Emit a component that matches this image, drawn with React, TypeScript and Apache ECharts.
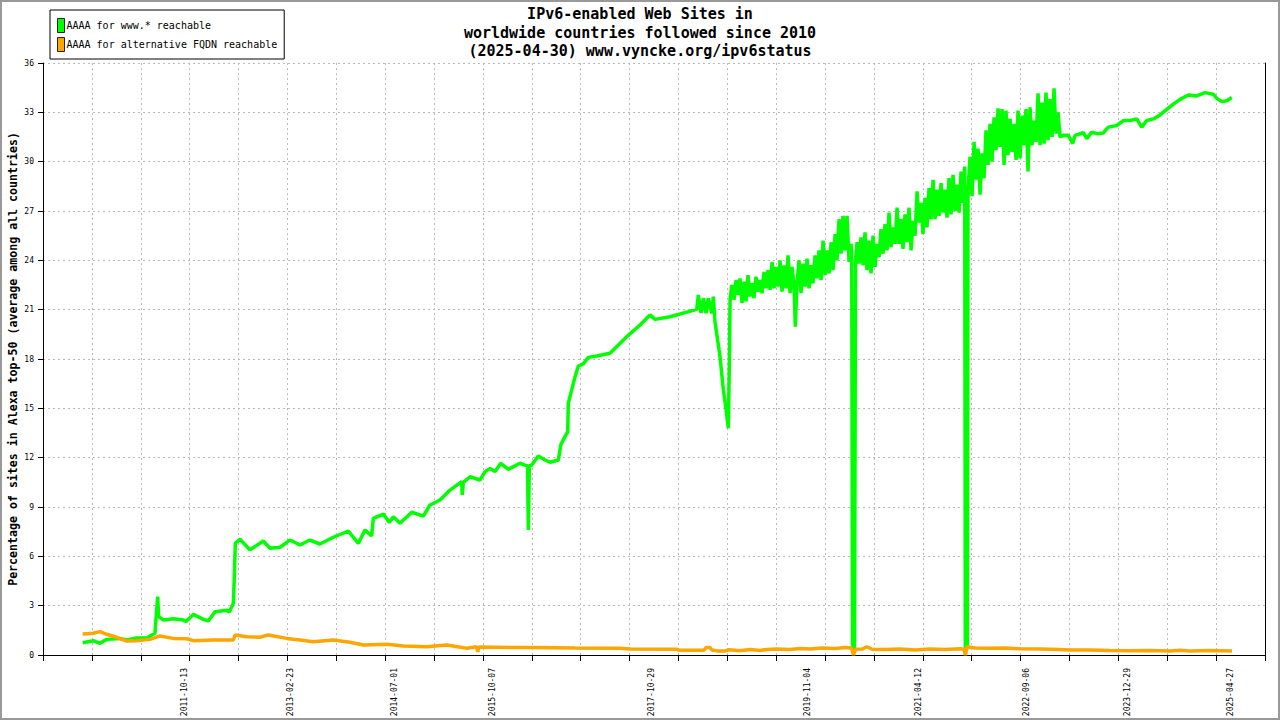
import React, { useEffect, useRef } from "react";
import * as echarts from "echarts";

// x axis: decimal years, shown as offsets from X_MIN so ticks start at 0
const X_MIN = 2009.942;
const X_INTERVAL = 0.6331;
const X_TICK_COUNT = 25;

const Y_MAX = 36;
const Y_INTERVAL = 3;

const X_LABELS = [
  "2011-10-13", "2013-02-23", "2014-07-01", "2015-10-07", "2017-10-29",
  "2019-11-04", "2021-04-12", "2022-09-06", "2023-12-29", "2025-04-27",
];

const SERIES_NAMES = ["AAAA for www.* reachable", "AAAA for alternative FQDN reachable"];

// [decimal year, percentage]
const GREEN_POINTS: [number, number][] = [
  [2010.456, 0.75], [2010.593, 0.87], [2010.680, 0.71], [2010.767, 0.95], [2010.939, 1.01],
  [2011.026, 0.91], [2011.155, 1.03], [2011.285, 1.03], [2011.392, 1.32], [2011.427, 3.55],
  [2011.440, 2.33], [2011.500, 2.13], [2011.629, 2.21], [2011.759, 2.13], [2011.794, 2.03],
  [2011.889, 2.47], [2012.018, 2.17], [2012.083, 2.07], [2012.170, 2.63], [2012.321, 2.72],
  [2012.355, 2.61], [2012.407, 3.14], [2012.420, 4.76], [2012.433, 6.79], [2012.493, 7.04],
  [2012.623, 6.39], [2012.795, 6.93], [2012.882, 6.49], [2013.012, 6.55], [2013.141, 6.99],
  [2013.271, 6.69], [2013.400, 6.99], [2013.530, 6.75], [2013.702, 7.16], [2013.896, 7.54],
  [2014.026, 6.79], [2014.113, 7.60], [2014.199, 7.24], [2014.220, 8.31], [2014.350, 8.57],
  [2014.427, 8.05], [2014.479, 8.41], [2014.566, 8.01], [2014.718, 8.68], [2014.868, 8.45],
  [2014.955, 9.12], [2015.041, 9.32], [2015.084, 9.43], [2015.214, 10.03], [2015.365, 10.54],
  [2015.373, 9.73], [2015.386, 10.50], [2015.473, 10.84], [2015.602, 10.64], [2015.667, 11.15],
  [2015.732, 11.35], [2015.797, 11.15], [2015.870, 11.66], [2015.969, 11.29], [2016.120, 11.66],
  [2016.185, 11.55], [2016.218, 11.50], [2016.228, 7.60], [2016.241, 11.50], [2016.272, 11.55],
  [2016.357, 12.10], [2016.444, 11.86], [2016.509, 11.72], [2016.617, 11.86], [2016.648, 12.77],
  [2016.703, 13.28], [2016.738, 13.58], [2016.746, 15.31], [2016.790, 16.12], [2016.833, 16.92],
  [2016.876, 17.57], [2016.940, 17.70], [2017.005, 18.10], [2017.114, 18.18], [2017.286, 18.35],
  [2017.503, 19.36], [2017.675, 20.07], [2017.804, 20.68], [2017.869, 20.41], [2018.063, 20.57],
  [2018.409, 21.02], [2018.430, 21.89], [2018.465, 20.80], [2018.495, 21.70], [2018.530, 20.78],
  [2018.560, 21.69], [2018.604, 20.78], [2018.624, 21.79], [2018.646, 20.27], [2018.711, 18.14],
  [2018.754, 16.12], [2018.785, 15.10], [2018.819, 13.79], [2018.832, 17.94], [2018.841, 21.59],
  [2018.863, 22.50],
  [2018.892, 21.6], [2018.918, 22.8], [2018.944, 21.9], [2018.970, 22.9], [2018.996, 21.4],
  [2019.022, 22.7], [2019.048, 21.5], [2019.073, 23.1], [2019.099, 21.8], [2019.125, 22.6],
  [2019.151, 21.7], [2019.177, 23.0], [2019.203, 22.1], [2019.229, 22.8], [2019.255, 22.0],
  [2019.281, 23.3], [2019.307, 22.3], [2019.333, 23.4], [2019.359, 22.2], [2019.385, 23.9],
  [2019.410, 22.3], [2019.436, 23.6], [2019.462, 22.4], [2019.488, 24.0], [2019.514, 22.1],
  [2019.540, 23.7], [2019.566, 22.3], [2019.592, 24.3], [2019.618, 22.0], [2019.644, 23.6],
  [2019.669, 22.5], [2019.686, 19.96], [2019.708, 22.6], [2019.734, 24.0], [2019.760, 22.0],
  [2019.786, 23.8], [2019.812, 22.4], [2019.838, 24.1], [2019.864, 22.3], [2019.890, 23.7],
  [2019.915, 22.6], [2019.941, 24.3], [2019.967, 22.9], [2019.993, 24.6], [2020.019, 22.8],
  [2020.045, 25.2], [2020.071, 23.1], [2020.097, 24.6], [2020.123, 23.2], [2020.149, 25.1],
  [2020.175, 23.4], [2020.201, 25.6], [2020.226, 24.0], [2020.252, 26.5], [2020.278, 24.4],
  [2020.304, 26.7], [2020.330, 24.6], [2020.356, 26.7], [2020.382, 23.9], [2020.408, 25.0],
  [2020.417, 24.2], [2020.427, 0.45], [2020.453, 0.45],
  [2020.466, 24.0], [2020.486, 25.1], [2020.512, 23.8], [2020.537, 25.4], [2020.563, 23.7],
  [2020.589, 25.7], [2020.615, 23.4], [2020.641, 25.2], [2020.667, 23.2], [2020.693, 25.5],
  [2020.719, 23.6], [2020.745, 25.0], [2020.771, 24.2], [2020.796, 25.9], [2020.822, 24.4],
  [2020.848, 26.2], [2020.874, 24.6], [2020.900, 26.9], [2020.926, 24.8], [2020.952, 26.0],
  [2020.978, 25.0], [2021.004, 27.2], [2021.030, 25.0], [2021.055, 26.5], [2021.081, 24.7],
  [2021.107, 26.8], [2021.133, 25.1], [2021.159, 27.2], [2021.185, 24.6], [2021.211, 26.4],
  [2021.237, 25.5], [2021.263, 28.2], [2021.289, 26.3], [2021.315, 27.5], [2021.340, 25.6],
  [2021.366, 27.8], [2021.392, 26.0], [2021.418, 28.4], [2021.444, 26.5], [2021.470, 28.9],
  [2021.496, 26.5], [2021.522, 28.3], [2021.548, 26.7], [2021.574, 28.7], [2021.600, 26.9],
  [2021.625, 28.3], [2021.651, 26.6], [2021.677, 29.0], [2021.703, 26.8], [2021.729, 29.2],
  [2021.755, 27.0], [2021.781, 28.6], [2021.807, 26.9], [2021.833, 29.4], [2021.859, 27.5],
  [2021.880, 29.7], [2021.888, 0.45], [2021.914, 0.45],
  [2021.923, 28.2], [2021.949, 30.3], [2021.975, 27.9], [2022.001, 31.2], [2022.027, 28.9],
  [2022.053, 30.8], [2022.079, 28.0], [2022.104, 30.5], [2022.130, 29.0], [2022.156, 31.9],
  [2022.182, 29.8], [2022.208, 32.3], [2022.234, 30.0], [2022.260, 32.7], [2022.286, 30.7],
  [2022.312, 33.25], [2022.338, 30.9], [2022.364, 33.2], [2022.390, 29.8], [2022.415, 33.1],
  [2022.441, 30.4], [2022.467, 32.6], [2022.493, 30.6], [2022.519, 32.3], [2022.545, 30.1],
  [2022.571, 33.1], [2022.597, 30.2], [2022.623, 32.8], [2022.649, 31.0], [2022.674, 33.2],
  [2022.700, 29.4], [2022.726, 33.3], [2022.752, 31.0], [2022.778, 32.5], [2022.804, 31.2],
  [2022.830, 34.16], [2022.856, 31.0], [2022.882, 33.6], [2022.908, 31.1], [2022.933, 34.2],
  [2022.959, 31.3], [2022.985, 33.8], [2023.011, 31.5], [2023.037, 34.46], [2023.063, 31.7],
  [2023.089, 33.0], [2023.115, 31.5],
  [2023.158, 31.6], [2023.222, 31.6], [2023.279, 31.1], [2023.309, 31.6], [2023.417, 31.76],
  [2023.461, 31.4], [2023.525, 31.8], [2023.590, 31.7], [2023.676, 31.75], [2023.740, 32.1],
  [2023.849, 32.2], [2023.935, 32.5], [2024.022, 32.5], [2024.108, 32.6], [2024.173, 32.1],
  [2024.238, 32.5], [2024.323, 32.6], [2024.410, 32.84], [2024.497, 33.18], [2024.582, 33.5],
  [2024.669, 33.79], [2024.777, 34.05], [2024.886, 34.0], [2024.993, 34.2], [2025.101, 34.1],
  [2025.145, 33.85], [2025.209, 33.65], [2025.274, 33.7], [2025.339, 33.9],
];

const ORANGE_POINTS: [number, number][] = [
  [2010.456, 1.28], [2010.593, 1.32], [2010.680, 1.42], [2010.767, 1.26], [2010.874, 1.11],
  [2011.026, 0.85], [2011.155, 0.87], [2011.328, 0.95], [2011.457, 1.16], [2011.629, 1.01],
  [2011.803, 0.99], [2011.889, 0.87], [2012.148, 0.91], [2012.407, 0.91], [2012.429, 1.22],
  [2012.580, 1.11], [2012.752, 1.08], [2012.860, 1.22], [2013.098, 1.01], [2013.271, 0.91],
  [2013.443, 0.81], [2013.702, 0.91], [2013.918, 0.77], [2014.091, 0.61], [2014.394, 0.65],
  [2014.609, 0.55], [2014.912, 0.50], [2015.171, 0.61], [2015.430, 0.41], [2015.559, 0.50],
  [2015.572, 0.20], [2015.589, 0.48], [2016.250, 0.45], [2016.833, 0.42], [2017.416, 0.41],
  [2017.545, 0.36], [2018.154, 0.35], [2018.180, 0.29], [2018.504, 0.29], [2018.530, 0.46],
  [2018.581, 0.46], [2018.605, 0.30], [2018.672, 0.25], [2018.775, 0.25], [2018.827, 0.32],
  [2018.970, 0.26], [2019.100, 0.33], [2019.229, 0.28], [2019.320, 0.34], [2019.436, 0.37],
  [2019.618, 0.33], [2019.747, 0.40], [2019.877, 0.36], [2020.032, 0.43], [2020.201, 0.40],
  [2020.330, 0.45], [2020.414, 0.42], [2020.440, 0.0], [2020.466, 0.35], [2020.550, 0.36],
  [2020.615, 0.50], [2020.680, 0.35], [2020.848, 0.33], [2021.042, 0.36], [2021.236, 0.31],
  [2021.431, 0.36], [2021.625, 0.33], [2021.820, 0.38], [2021.871, 0.35], [2021.888, 0.0],
  [2021.914, 0.50], [2022.014, 0.43], [2022.208, 0.41], [2022.402, 0.42], [2022.597, 0.38],
  [2022.856, 0.37], [2023.115, 0.33], [2023.244, 0.30], [2023.503, 0.31], [2023.762, 0.27],
  [2024.022, 0.26], [2024.281, 0.27], [2024.540, 0.24], [2024.669, 0.29], [2024.799, 0.24],
  [2025.058, 0.27], [2025.343, 0.25],
];

const MONO = "'DejaVu Sans Mono', 'Liberation Mono', monospace";

function dateToYear(s: string): number {
  const [y, m, d] = s.split("-").map(Number);
  const start = Date.UTC(y, 0, 1);
  const days = (Date.UTC(y + 1, 0, 1) - start) / 86400000;
  return y + (Date.UTC(y, m - 1, d) - start) / 86400000 / days;
}

export default function App() {
  const ref = useRef<HTMLDivElement>(null);

  useEffect(() => {
    if (!ref.current) return;
    const chart = echarts.init(ref.current, null, { renderer: "svg" });
    const labelOffsets = X_LABELS.map((l) => dateToYear(l) - X_MIN);
    const xMax = X_INTERVAL * X_TICK_COUNT;

    const option: any = {
      animation: false,
      backgroundColor: "#ffffff",
      title: {
        text: "IPv6-enabled Web Sites in\nworldwide countries followed since 2010\n(2025-04-30) www.vyncke.org/ipv6status",
        left: "center",
        top: 5,
        padding: 0,
        textStyle: {
          fontFamily: MONO,
          fontWeight: "bold",
          fontSize: 15,
          lineHeight: 18.5,
          color: "#000",
        },
      },
      legend: {
        left: 50,
        top: 10,
        orient: "vertical",
        padding: [8, 7, 7, 7],
        itemGap: 4,
        itemWidth: 7,
        itemHeight: 14,
        backgroundColor: "#ffffff",
        borderColor: "#000000",
        borderWidth: 1,
        borderRadius: 0,
        icon: "rect",
        itemStyle: { borderColor: "#222", borderWidth: 1 },
        textStyle: { fontFamily: MONO, fontSize: 10, color: "#000", padding: [0, 0, 0, -3] },
        data: SERIES_NAMES,
      },
      grid: { left: 43, right: 15, top: 63, bottom: 65, outerBoundsMode: "none" },
      xAxis: {
        type: "value",
        min: 0,
        max: xMax,
        interval: X_INTERVAL,
        axisLine: { show: true, lineStyle: { color: "#000", width: 1 } },
        axisTick: { show: true, inside: false, length: 6, lineStyle: { color: "#000", width: 1 } },
        axisLabel: {
          customValues: labelOffsets,
          rotate: 90,
          margin: 13,
          fontFamily: MONO,
          fontSize: 8,
          color: "#000",
          formatter: (v: number) => {
            let best = 0;
            let bd = Infinity;
            labelOffsets.forEach((o, i) => {
              const d = Math.abs(o - v);
              if (d < bd) { bd = d; best = i; }
            });
            return X_LABELS[best];
          },
        },
        splitLine: { show: true, lineStyle: { color: "#bbbbbb", width: 1, type: [2, 3] } },
      },
      yAxis: [
        {
          type: "value",
          min: 0,
          max: Y_MAX,
          interval: Y_INTERVAL,
          name: "Percentage of sites in Alexa top-50 (average among all countries)",
          nameLocation: "middle",
          nameGap: 24,
          nameMoveOverlap: false,
          nameTextStyle: { fontFamily: MONO, fontWeight: "bold", fontSize: 11.6, color: "#000" },
          axisLine: { show: true, lineStyle: { color: "#000", width: 1 } },
          axisTick: { show: true, inside: false, length: 5, lineStyle: { color: "#000", width: 1 } },
          axisLabel: { margin: 9, fontFamily: MONO, fontSize: 8, color: "#000" },
          splitLine: { show: true, lineStyle: { color: "#bbbbbb", width: 1, type: [2, 3] } },
        },
        {
          type: "value",
          position: "right",
          min: 0,
          max: Y_MAX,
          interval: Y_INTERVAL,
          axisLine: { show: true, lineStyle: { color: "#000", width: 1 } },
          axisTick: { show: false },
          axisLabel: { show: false },
          splitLine: { show: false },
        },
      ],
      series: [
        {
          name: SERIES_NAMES[0],
          type: "line",
          yAxisIndex: 0,
          data: GREEN_POINTS.map(([y, v]) => [y - X_MIN, v]),
          showSymbol: false,
          symbol: "none",
          lineStyle: { color: "#00ff00", width: 3.5, join: "bevel" },
          itemStyle: { color: "#00ff00" },
          z: 2,
        },
        {
          name: SERIES_NAMES[1],
          type: "line",
          yAxisIndex: 0,
          data: ORANGE_POINTS.map(([y, v]) => [y - X_MIN, v]),
          showSymbol: false,
          symbol: "none",
          lineStyle: { color: "#ffa500", width: 3.5, join: "bevel" },
          itemStyle: { color: "#ffa500" },
          z: 3,
        },
      ],
      graphic: [
        {
          type: "rect",
          silent: true,
          z: 100,
          shape: { x: 1, y: 1, width: 1278, height: 718 },
          style: { fill: "none", stroke: "#999999", lineWidth: 2 },
        },
      ],
    };

    chart.setOption(option);
    return () => chart.dispose();
  }, []);

  return (
    <div
      ref={ref}
      style={{ position: "absolute", left: 0, top: 0, width: 1280, height: 720 }}
    />
  );
}
